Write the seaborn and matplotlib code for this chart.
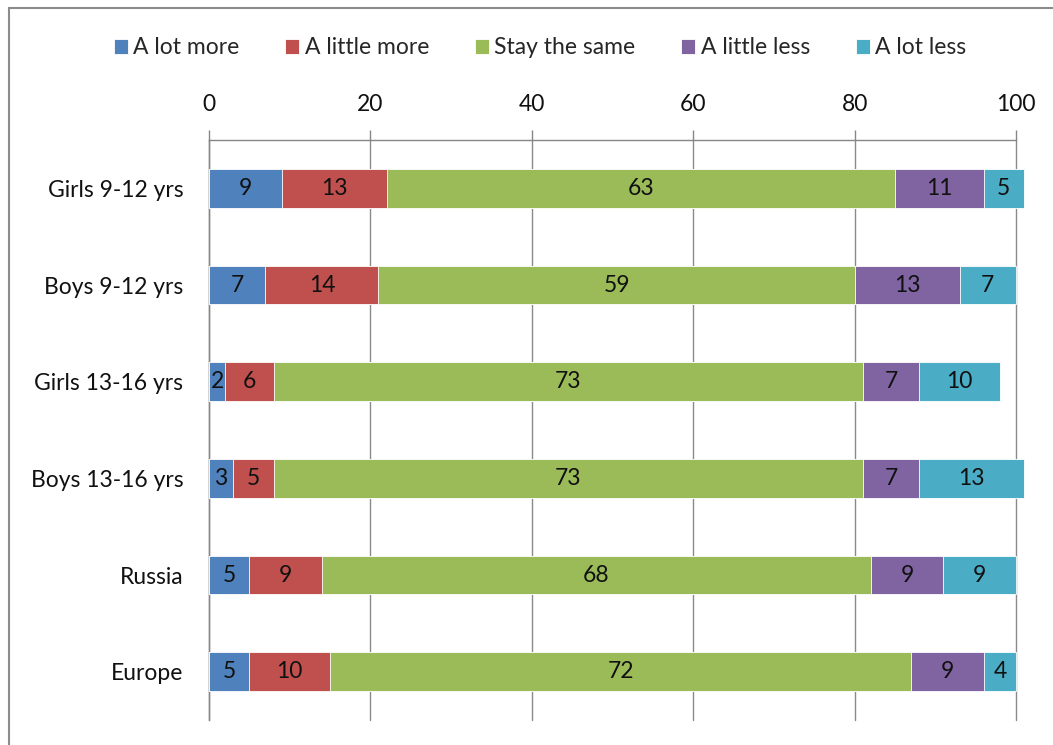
import matplotlib
matplotlib.use("Agg")
import matplotlib.pyplot as plt
from matplotlib.patches import Rectangle
import numpy as np
import pandas as pd
import seaborn as sns

groups = ['Girls 9-12 yrs', 'Boys 9-12 yrs', 'Girls 13-16 yrs',
          'Boys 13-16 yrs', 'Russia', 'Europe']
answers = ['A lot more', 'A little more', 'Stay the same', 'A little less', 'A lot less']

a_lot_more = [9, 7, 2, 3, 5, 5]
a_little_more = [13, 14, 6, 5, 9, 10]
stay_same = [63, 59, 73, 73, 68, 72]
a_little_less = [11, 13, 7, 7, 9, 9]
a_lot_less = [5, 7, 10, 13, 9, 4]

colors = ['#4F81BD', '#C0504D', '#9BBB59', '#8064A2', '#4BACC6']

sns.set_style('white')
plt.rcParams['font.family'] = ['Lato', 'DejaVu Sans']

vals = np.array([a_lot_more, a_little_more, stay_same, a_little_less, a_lot_less])
cum = vals.cumsum(axis=0)

fig = plt.figure(figsize=(10.53, 7.45), dpi=100)
ax = fig.add_axes([209 / 1053, 25 / 745, 807 / 1053, 580 / 745])

# stacked bars: draw cumulative totals from the widest down
for i in range(len(answers) - 1, -1, -1):
    df = pd.DataFrame({'group': groups, 'total': cum[i]})
    sns.barplot(data=df, x='total', y='group', orient='h', color=colors[i],
                width=0.4, saturation=1, edgecolor='white', linewidth=0.6,
                ax=ax, label=answers[i], zorder=3)

# totals above 100 run past the axis edge, like the original
for p in ax.patches:
    p.set_clip_on(False)

# value labels in the middle of each segment
for i in range(len(answers)):
    for j in range(len(groups)):
        mid = cum[i][j] - vals[i][j] / 2
        ax.text(mid, j, str(vals[i][j]), ha='center', va='center',
                fontsize=16.5, color='#111111', zorder=4)

ax.set_xlim(0, 100)
ax.set_ylim(5.5, -0.5)
ax.set_xticks(range(0, 101, 20))
ax.xaxis.tick_top()
ax.set_xlabel('')
ax.set_ylabel('')
ax.tick_params(axis='x', which='major', direction='out', length=7, width=1,
               color='#868686', labelsize=16.5, pad=11, labelcolor='#111111')
ax.tick_params(axis='y', which='major', length=0, labelsize=16.5, pad=18.5,
               labelcolor='#111111')
ax.set_yticks(np.arange(-0.5, 6, 1), minor=True)
ax.tick_params(axis='y', which='minor', direction='out', length=8, width=1,
               color='#868686')
ax.grid(axis='x', color='#8a8a8a', linewidth=1, zorder=0)
for g in ax.get_xgridlines():
    g.set_clip_on(False)
ax.set_axisbelow(True)
for side in ['right', 'bottom']:
    ax.spines[side].set_visible(False)
for side in ['top', 'left']:
    ax.spines[side].set_color('#868686')
    ax.spines[side].set_linewidth(1)

handles, labels = ax.get_legend_handles_labels()
order = [labels.index(a) for a in answers]
leg = fig.legend([handles[k] for k in order], [labels[k] for k in order],
                 loc='center', bbox_to_anchor=(0.513, 1 - 48 / 745), ncol=5,
                 frameon=False, fontsize=16.5, handlelength=0.6, handleheight=0.6,
                 handletextpad=0.25, columnspacing=2.0)
if ax.get_legend() is not None:
    ax.get_legend().remove()

# chart-area border (only top and left visible in the crop)
fig.patches.append(Rectangle((9 / 1053, -0.2), 1.2, 1.2 - 8 / 745,
                             transform=fig.transFigure, fill=False,
                             edgecolor='#8c8c8c', linewidth=1.5))

fig.savefig('out.png', dpi=100)
